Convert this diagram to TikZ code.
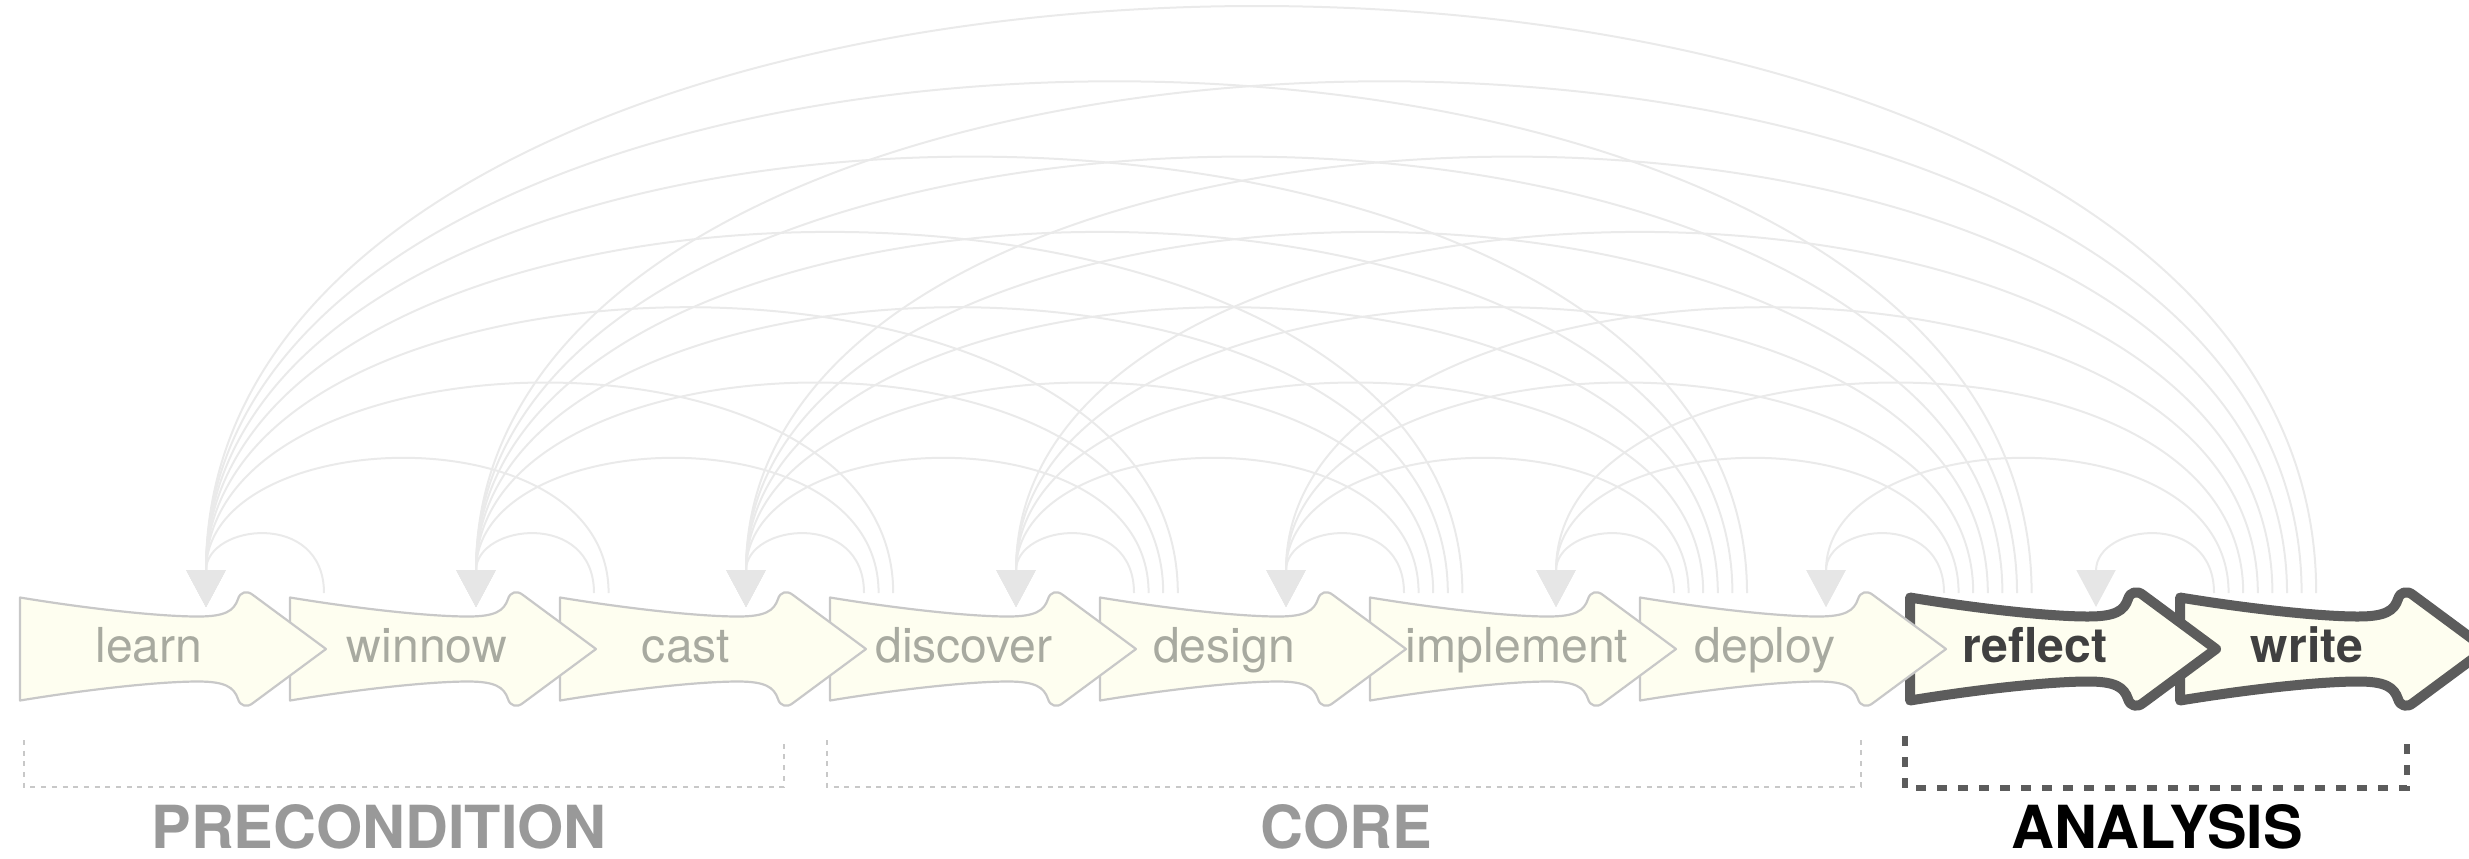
\documentclass[tikz,border=0pt]{standalone}
\usepackage{fontspec}
\setmainfont{TeX Gyre Heros}
\usetikzlibrary{arrows.meta,calc,backgrounds}
\definecolor{ivory}{RGB}{254,254,240}
\definecolor{mist}{RGB}{200,200,200}
\definecolor{sage}{RGB}{168,170,160}
\definecolor{slate}{RGB}{92,92,92}
\definecolor{ink}{RGB}{64,64,64}
\definecolor{haze}{RGB}{234,234,234}
\definecolor{veil}{RGB}{230,230,230}
\definecolor{stone}{RGB}{153,153,153}
\tikzset{
  quiet/.style={fill=ivory,draw=mist,line width=0.22mm,line join=round},
  loud/.style={fill=ivory,draw=slate,line width=1mm,line join=round},
  stage/.style={anchor=base,inner sep=0pt,text=#1,font=\fontsize{13.7pt}{16pt}\selectfont},
  stage/.default=sage,
  loud stage/.style={stage=ink,font=\fontsize{13.7pt}{16pt}\selectfont\bfseries},
  link/.style={draw=haze,line width=0.2mm,-{Triangle[width=3.9mm,length=3.7mm,color=veil]}},
  brace/.style={draw=mist,line width=0.2mm,dash pattern=on 0.5mm off 0.57mm},
  loud brace/.style={draw=slate,line width=0.55mm,dash pattern=on 1mm off 1.1mm},
  phase/.style={anchor=base,inner sep=0pt,text=#1,font=\fontsize{16.9pt}{20pt}\selectfont\bfseries},
  phase/.default=stone,
  % stage arrow
  pics/chevron/.style={code={
    \filldraw[#1] (0,51.5) .. controls (70,40) and (140,32.5) .. (178,32.5)
      .. controls (205,32.5) and (214,38) .. (218,50)
      .. controls (220,57) and (227,59) .. (233,54) -- (306,0) -- (233,-54)
      .. controls (227,-59) and (220,-57) .. (218,-50)
      .. controls (214,-38) and (205,-32.5) .. (178,-32.5)
      .. controls (140,-32.5) and (70,-40) .. (0,-51.5) -- cycle;
  }},
  pics/chevron/.default=quiet,
}
\begin{document}
\begin{tikzpicture}[x=0.1mm,y=0.1mm]
  \useasboundingbox (0,0) rectangle (2469,858);
  \foreach \i/\t/\m in {8/write/127,7/reflect/125}{
    \pgfmathsetmacro\x{20+270*\i}
    \pic at (\x,209) {chevron=loud};
    \node[loud stage] (s\i) at (\x+\m,196) {\t};
    \coordinate (in\i) at (\x+186,251);
    \coordinate (out\i) at (\x+34,265);
  }
  \foreach \i/\t/\m in {6/deploy/125,5/implement/147,4/design/124,3/discover/134,2/cast/126,1/winnow/137,0/learn/129}{
    \pgfmathsetmacro\x{20+270*\i}
    \pic at (\x,209) {chevron=quiet};
    \node[stage] (s\i) at (\x+\m,196) {\t};
    \coordinate (in\i) at (\x+186,251);
    \coordinate (out\i) at (\x+34,265);
  }
  \begin{scope}[on background layer]
    \foreach \j in {1,...,8}{
      \pgfmathtruncatemacro\last{\j-1}
      \foreach \i in {0,...,\last}{
        \pgfmathsetmacro\dx{14.6*(\j-\i-1)}
        \pgfmathsetmacro\lift{100.4*(\j-\i)-17.3}
        \draw[link] ($(out\j)+(\dx,0)$) .. controls +(0,\lift) and +(0,\lift) .. (in\i);
      }
    }
  \end{scope}
  \draw[brace] (24,118) |- (784,71) -- (784,118);
  \draw[brace] (827,118) |- (1861,71) -- (1861,118);
  \draw[loud brace] (1905,122) |- (2407,70) -- (2407,122);
  \node[phase] (pre) at (379,10) {PRECONDITION};
  \node[phase] (core) at (1346,10) {CORE};
  \node[phase=black] (ana) at (2157,10) {ANALYSIS};
\end{tikzpicture}
\end{document}
